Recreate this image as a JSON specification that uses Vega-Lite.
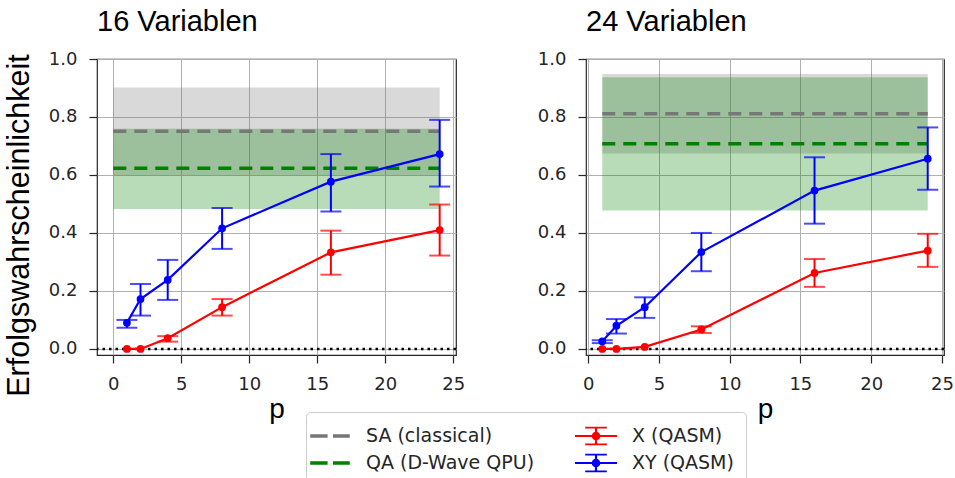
{
  "$schema": "https://vega.github.io/schema/vega-lite/v6.json",
  "padding": {"left": 3, "top": 7, "right": 0, "bottom": 0},
  "bounds": "flush",
  "spacing": 130,
  "datasets": {
    "pts": [
      {"panel": "16", "series": "X (QASM)", "p": 1, "mean": 0.0, "lo": null, "hi": null},
      {"panel": "16", "series": "X (QASM)", "p": 2, "mean": 0.0, "lo": null, "hi": null},
      {"panel": "16", "series": "X (QASM)", "p": 4, "mean": 0.037, "lo": 0.025, "hi": 0.044},
      {"panel": "16", "series": "X (QASM)", "p": 8, "mean": 0.144, "lo": 0.115, "hi": 0.172},
      {"panel": "16", "series": "X (QASM)", "p": 16, "mean": 0.333, "lo": 0.256, "hi": 0.408},
      {"panel": "16", "series": "X (QASM)", "p": 24, "mean": 0.41, "lo": 0.322, "hi": 0.498},
      {"panel": "16", "series": "XY (QASM)", "p": 1, "mean": 0.09, "lo": 0.073, "hi": 0.1},
      {"panel": "16", "series": "XY (QASM)", "p": 2, "mean": 0.172, "lo": 0.115, "hi": 0.224},
      {"panel": "16", "series": "XY (QASM)", "p": 4, "mean": 0.238, "lo": 0.169, "hi": 0.307},
      {"panel": "16", "series": "XY (QASM)", "p": 8, "mean": 0.416, "lo": 0.345, "hi": 0.486},
      {"panel": "16", "series": "XY (QASM)", "p": 16, "mean": 0.577, "lo": 0.474, "hi": 0.672},
      {"panel": "16", "series": "XY (QASM)", "p": 24, "mean": 0.672, "lo": 0.56, "hi": 0.79},
      {"panel": "24", "series": "X (QASM)", "p": 1, "mean": 0.0, "lo": null, "hi": null},
      {"panel": "24", "series": "X (QASM)", "p": 2, "mean": 0.0, "lo": null, "hi": null},
      {"panel": "24", "series": "X (QASM)", "p": 4, "mean": 0.007, "lo": null, "hi": null},
      {"panel": "24", "series": "X (QASM)", "p": 8, "mean": 0.067, "lo": 0.055, "hi": 0.078},
      {"panel": "24", "series": "X (QASM)", "p": 16, "mean": 0.262, "lo": 0.214, "hi": 0.31},
      {"panel": "24", "series": "X (QASM)", "p": 24, "mean": 0.339, "lo": 0.283, "hi": 0.397},
      {"panel": "24", "series": "XY (QASM)", "p": 1, "mean": 0.026, "lo": 0.02, "hi": 0.03},
      {"panel": "24", "series": "XY (QASM)", "p": 2, "mean": 0.08, "lo": 0.053, "hi": 0.103},
      {"panel": "24", "series": "XY (QASM)", "p": 4, "mean": 0.144, "lo": 0.107, "hi": 0.178},
      {"panel": "24", "series": "XY (QASM)", "p": 8, "mean": 0.334, "lo": 0.268, "hi": 0.4},
      {"panel": "24", "series": "XY (QASM)", "p": 16, "mean": 0.546, "lo": 0.432, "hi": 0.661},
      {"panel": "24", "series": "XY (QASM)", "p": 24, "mean": 0.656, "lo": 0.549, "hi": 0.764}
    ],
    "bands": [
      {"panel": "16", "series": "SA (classical)", "x0": 0, "x1": 24, "mean": 0.751, "lo": 0.6, "hi": 0.902},
      {"panel": "16", "series": "QA (D-Wave QPU)", "x0": 0, "x1": 24, "mean": 0.623, "lo": 0.483, "hi": 0.759},
      {"panel": "24", "series": "SA (classical)", "x0": 1, "x1": 24, "mean": 0.811, "lo": 0.674, "hi": 0.948},
      {"panel": "24", "series": "QA (D-Wave QPU)", "x0": 1, "x1": 24, "mean": 0.708, "lo": 0.477, "hi": 0.937}
    ],
    "zero": [{"level": 0}]
  },
  "hconcat": [
    {
      "width": 359,
      "height": 296,
      "title": {"text": "16 Variablen", "anchor": "start", "frame": "group", "font": "Liberation Sans", "fontSize": 29, "fontWeight": "normal", "color": "black", "offset": -10, "baseline": "alphabetic"},
      "layer": [
        {
          "data": {"name": "bands"},
          "transform": [{"filter": "datum.panel === '16'"}],
          "mark": {"type": "rect", "opacity": 0.28},
          "encoding": {
            "x": {"field": "x0", "type": "quantitative", "scale": {"domain": [-1.2, 25.2], "nice": false, "zero": false},
                  "axis": {"values": [0, 5, 10, 15, 20, 25], "title": "p", "titleFont": "Liberation Sans", "titleFontSize": 28, "titleFontWeight": "normal", "titleColor": "black", "titleY": 62, "titleBaseline": "alphabetic", "labelFlush": false, "labelOverlap": false}},
            "x2": {"field": "x1"},
            "y": {"field": "lo", "type": "quantitative", "scale": {"domain": [-0.021, 1.0], "nice": false, "zero": false},
                  "axis": {"values": [0, 0.2, 0.4, 0.6, 0.8, 1.0], "format": ".1f", "title": "Erfolgswahrscheinlichkeit", "titleFont": "Liberation Sans", "titleFontSize": 30.5, "titleFontWeight": "normal", "titleColor": "black", "titleAngle": -90, "titleX": -69, "titleY": 166, "titleAlign": "center", "titleBaseline": "alphabetic", "labelFlush": false, "labelOverlap": false}},
            "y2": {"field": "hi"},
            "color": {"field": "series", "type": "nominal", "scale": {"domain": ["SA (classical)", "QA (D-Wave QPU)", "X (QASM)", "XY (QASM)"], "range": ["#777777", "#008000", "#ff0000", "#0000ff"]},
              "legend": {
                "title": null, "orient": "none", "legendX": 209, "legendY": 353, "columns": 2,
                "columnPadding": 40, "rowPadding": 5, "padding": 12, "symbolSize": 576, "labelOffset": 24,
                "labelFontSize": 19, "labelFont": "DejaVu Sans", "labelColor": "#262626", "labelLimit": 400,
                "strokeColor": "#cccccc", "fillColor": "white", "cornerRadius": 4,
                "symbolStrokeWidth": 0, "symbolOpacity": 1,
                "encode": {"symbols": {"update": {
                  "shape": {"signal": "indexof(['SA (classical)','QA (D-Wave QPU)'], datum.value) >= 0 ? 'M-1.65,-0.15H-0.2V0.15H-1.65Z M0.25,-0.15H1.65V0.15H0.25Z' : 'M-1.75,-0.09H1.75V0.09H-1.75Z M-0.09,-0.7H0.09V0.7H-0.09Z M-0.9,-0.78H0.9V-0.62H-0.9Z M-0.9,0.62H0.9V0.78H-0.9Z M0.36,0A0.36,0.36 0 1,1 -0.36,0A0.36,0.36 0 1,1 0.36,0Z'"},
                  "fill": {"scale": "color", "field": "value"},
                  "stroke": {"value": "transparent"},
                  "strokeWidth": {"value": 0},
                  "opacity": {"value": 1}
                }}}
              }
            }
          }
        },
        {
          "data": {"name": "bands"},
          "transform": [{"filter": "datum.panel === '16'"}],
          "mark": {"type": "rule", "strokeDash": [13, 8], "strokeWidth": 3.5},
          "encoding": {
            "x": {"field": "x0", "type": "quantitative", "scale": {"domain": [-1.2, 25.2], "nice": false, "zero": false}},
            "x2": {"field": "x1"},
            "y": {"field": "mean", "type": "quantitative", "scale": {"domain": [-0.021, 1.0], "nice": false, "zero": false}},
            "color": {"field": "series", "type": "nominal"}
          }
        },
        {
          "data": {"name": "zero"},
          "mark": {"type": "rule", "color": "black", "strokeDash": [2.5, 4], "strokeWidth": 2.5},
          "encoding": {
            "y": {"field": "level", "type": "quantitative", "scale": {"domain": [-0.021, 1.0], "nice": false, "zero": false}}
          }
        },
        {
          "data": {"name": "pts"},
          "transform": [{"filter": "datum.panel === '16'"}],
          "mark": {"type": "rule", "strokeWidth": 2},
          "encoding": {
            "x": {"field": "p", "type": "quantitative", "scale": {"domain": [-1.2, 25.2], "nice": false, "zero": false}},
            "y": {"field": "lo", "type": "quantitative", "scale": {"domain": [-0.021, 1.0], "nice": false, "zero": false}},
            "y2": {"field": "hi"},
            "color": {"field": "series", "type": "nominal"}
          }
        },
        {
          "data": {"name": "pts"},
          "transform": [{"filter": "datum.panel === '16'"}],
          "mark": {"type": "tick", "orient": "horizontal", "size": 21, "thickness": 2},
          "encoding": {
            "x": {"field": "p", "type": "quantitative", "scale": {"domain": [-1.2, 25.2], "nice": false, "zero": false}},
            "y": {"field": "lo", "type": "quantitative", "scale": {"domain": [-0.021, 1.0], "nice": false, "zero": false}},
            "color": {"field": "series", "type": "nominal"}
          }
        },
        {
          "data": {"name": "pts"},
          "transform": [{"filter": "datum.panel === '16'"}],
          "mark": {"type": "tick", "orient": "horizontal", "size": 21, "thickness": 2},
          "encoding": {
            "x": {"field": "p", "type": "quantitative", "scale": {"domain": [-1.2, 25.2], "nice": false, "zero": false}},
            "y": {"field": "hi", "type": "quantitative", "scale": {"domain": [-0.021, 1.0], "nice": false, "zero": false}},
            "color": {"field": "series", "type": "nominal"}
          }
        },
        {
          "data": {"name": "pts"},
          "transform": [{"filter": "datum.panel === '16'"}],
          "mark": {"type": "line", "strokeWidth": 2.2},
          "encoding": {
            "x": {"field": "p", "type": "quantitative", "scale": {"domain": [-1.2, 25.2], "nice": false, "zero": false}},
            "y": {"field": "mean", "type": "quantitative", "scale": {"domain": [-0.021, 1.0], "nice": false, "zero": false}},
            "color": {"field": "series", "type": "nominal"}
          }
        },
        {
          "data": {"name": "pts"},
          "transform": [{"filter": "datum.panel === '16'"}],
          "mark": {"type": "circle", "size": 60, "opacity": 1},
          "encoding": {
            "x": {"field": "p", "type": "quantitative", "scale": {"domain": [-1.2, 25.2], "nice": false, "zero": false}},
            "y": {"field": "mean", "type": "quantitative", "scale": {"domain": [-0.021, 1.0], "nice": false, "zero": false}},
            "color": {"field": "series", "type": "nominal"}
          }
        }
      ]
    },
    {
      "width": 358,
      "height": 296,
      "title": {"text": "24 Variablen", "anchor": "start", "frame": "group", "font": "Liberation Sans", "fontSize": 29, "fontWeight": "normal", "color": "black", "offset": -10, "baseline": "alphabetic"},
      "layer": [
        {
          "data": {"name": "bands"},
          "transform": [{"filter": "datum.panel === '24'"}],
          "mark": {"type": "rect", "opacity": 0.28},
          "encoding": {
            "x": {"field": "x0", "type": "quantitative", "scale": {"domain": [-0.15, 25.15], "nice": false, "zero": false},
                  "axis": {"values": [0, 5, 10, 15, 20, 25], "title": "p", "titleFont": "Liberation Sans", "titleFontSize": 28, "titleFontWeight": "normal", "titleColor": "black", "titleY": 62, "titleBaseline": "alphabetic", "labelFlush": false, "labelOverlap": false}},
            "x2": {"field": "x1"},
            "y": {"field": "lo", "type": "quantitative", "scale": {"domain": [-0.021, 1.0], "nice": false, "zero": false},
                  "axis": {"values": [0, 0.2, 0.4, 0.6, 0.8, 1.0], "format": ".1f", "title": null, "labelFlush": false, "labelOverlap": false}},
            "y2": {"field": "hi"},
            "color": {"field": "series", "type": "nominal"}
          }
        },
        {
          "data": {"name": "bands"},
          "transform": [{"filter": "datum.panel === '24'"}],
          "mark": {"type": "rule", "strokeDash": [13, 8], "strokeWidth": 3.5},
          "encoding": {
            "x": {"field": "x0", "type": "quantitative", "scale": {"domain": [-0.15, 25.15], "nice": false, "zero": false}},
            "x2": {"field": "x1"},
            "y": {"field": "mean", "type": "quantitative", "scale": {"domain": [-0.021, 1.0], "nice": false, "zero": false}},
            "color": {"field": "series", "type": "nominal"}
          }
        },
        {
          "data": {"name": "zero"},
          "mark": {"type": "rule", "color": "black", "strokeDash": [2.5, 4], "strokeWidth": 2.5},
          "encoding": {
            "y": {"field": "level", "type": "quantitative", "scale": {"domain": [-0.021, 1.0], "nice": false, "zero": false}}
          }
        },
        {
          "data": {"name": "pts"},
          "transform": [{"filter": "datum.panel === '24'"}],
          "mark": {"type": "rule", "strokeWidth": 2},
          "encoding": {
            "x": {"field": "p", "type": "quantitative", "scale": {"domain": [-0.15, 25.15], "nice": false, "zero": false}},
            "y": {"field": "lo", "type": "quantitative", "scale": {"domain": [-0.021, 1.0], "nice": false, "zero": false}},
            "y2": {"field": "hi"},
            "color": {"field": "series", "type": "nominal"}
          }
        },
        {
          "data": {"name": "pts"},
          "transform": [{"filter": "datum.panel === '24'"}],
          "mark": {"type": "tick", "orient": "horizontal", "size": 21, "thickness": 2},
          "encoding": {
            "x": {"field": "p", "type": "quantitative", "scale": {"domain": [-0.15, 25.15], "nice": false, "zero": false}},
            "y": {"field": "lo", "type": "quantitative", "scale": {"domain": [-0.021, 1.0], "nice": false, "zero": false}},
            "color": {"field": "series", "type": "nominal"}
          }
        },
        {
          "data": {"name": "pts"},
          "transform": [{"filter": "datum.panel === '24'"}],
          "mark": {"type": "tick", "orient": "horizontal", "size": 21, "thickness": 2},
          "encoding": {
            "x": {"field": "p", "type": "quantitative", "scale": {"domain": [-0.15, 25.15], "nice": false, "zero": false}},
            "y": {"field": "hi", "type": "quantitative", "scale": {"domain": [-0.021, 1.0], "nice": false, "zero": false}},
            "color": {"field": "series", "type": "nominal"}
          }
        },
        {
          "data": {"name": "pts"},
          "transform": [{"filter": "datum.panel === '24'"}],
          "mark": {"type": "line", "strokeWidth": 2.2},
          "encoding": {
            "x": {"field": "p", "type": "quantitative", "scale": {"domain": [-0.15, 25.15], "nice": false, "zero": false}},
            "y": {"field": "mean", "type": "quantitative", "scale": {"domain": [-0.021, 1.0], "nice": false, "zero": false}},
            "color": {"field": "series", "type": "nominal"}
          }
        },
        {
          "data": {"name": "pts"},
          "transform": [{"filter": "datum.panel === '24'"}],
          "mark": {"type": "circle", "size": 60, "opacity": 1},
          "encoding": {
            "x": {"field": "p", "type": "quantitative", "scale": {"domain": [-0.15, 25.15], "nice": false, "zero": false}},
            "y": {"field": "mean", "type": "quantitative", "scale": {"domain": [-0.021, 1.0], "nice": false, "zero": false}},
            "color": {"field": "series", "type": "nominal"}
          }
        }
      ]
    }
  ],
  "resolve": {"scale": {"x": "independent", "y": "independent", "color": "shared"}},
  "config": {
    "background": "white",
    "view": {"stroke": "#262626", "strokeWidth": 1.2},
    "axis": {
      "domain": false, "grid": true, "gridColor": "#b0b0b0", "gridWidth": 1,
      "ticks": true, "tickColor": "#262626", "tickSize": 8, "tickWidth": 1.2,
      "labelFont": "DejaVu Sans", "labelFontSize": 18, "labelColor": "#262626", "labelPadding": 12
    }
  }
}
